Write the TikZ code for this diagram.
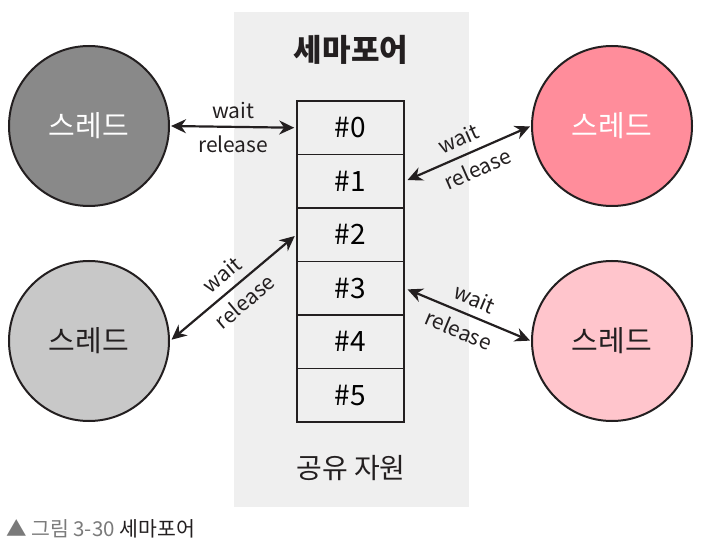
\documentclass[tikz,border=0pt]{standalone}
\usepackage{fontspec}
\setmainfont{Noto Sans CJK KR}
\newfontfamily\kr{Noto Sans CJK KR}
\usetikzlibrary{arrows.meta}
\definecolor{lineC}{HTML}{231F20}
\definecolor{bgC}{HTML}{EFEFEF}
\definecolor{thrA}{HTML}{898989}
\definecolor{thrB}{HTML}{C8C8C8}
\definecolor{thrC}{HTML}{FF8D9B}
\definecolor{thrD}{HTML}{FFC5CC}
\definecolor{capG}{HTML}{7A7A7A}
\tikzset{
  thread/.style={circle, draw=lineC, line width=2pt, minimum size=160pt, inner sep=0pt, font=\kr\fontsize{29}{29}\selectfont},
  slot/.style={rectangle, draw=lineC, line width=1.5pt, minimum width=107pt, minimum height=53.5pt, inner sep=0pt, font=\kr\fontsize{28}{28}\selectfont},
  link/.style={lineC, line width=2.2pt, {Stealth[length=15pt,width=14pt]}-{Stealth[length=15pt,width=14pt]}},
  lab/.style={font=\kr\fontsize{21}{21}\selectfont, text=lineC, inner sep=1pt},
}
\begin{document}
\begin{tikzpicture}[x=1pt,y=-1pt]
\useasboundingbox (0,0) rectangle (701,545);
\fill[bgC] (234,12) rectangle (469,507);
\node[font=\kr\bfseries\fontsize{31}{31}\selectfont, text=lineC] (title) at (351,50) {세마포어};
\foreach \i in {0,...,5} {
  \node[slot] (r\i) at (350.5,{101+53.5*\i+26.75}) {\#\i};
}
\node[font=\kr\fontsize{28}{28}\selectfont, text=lineC] (shared) at (351,468) {공유 자원};
\node[thread, fill=thrA, text=white] (tl) at (89,126) {스레드};
\node[thread, fill=thrB, text=lineC] (bl) at (89,341) {스레드};
\node[thread, fill=thrC, text=white] (tr) at (612,126) {스레드};
\node[thread, fill=thrD, text=lineC] (br) at (612,341) {스레드};
\draw[link, shorten <=1pt, shorten >=2pt] (tl.east) -- (r0.west)
  node[lab, midway, above=6pt] {wait}
  node[lab, midway, below=7pt] {release};
\draw[link, shorten <=3pt, shorten >=1pt] (r1.east) -- (tr.west)
  node[lab, pos=0.48, sloped, above=7pt] {wait}
  node[lab, pos=0.52, sloped, below=7pt] {release};
\draw[link, shorten <=2pt, shorten >=2pt] (bl.east) -- (r2.west)
  node[lab, pos=0.5, sloped, above=7pt] {wait}
  node[lab, pos=0.5, sloped, below=7pt] {release};
\draw[link, shorten <=3pt, shorten >=1pt] (r3.east) -- (br.west)
  node[lab, pos=0.5, sloped, above=7pt] {wait}
  node[lab, pos=0.48, sloped, below=7pt] {release};
\node[anchor=west, inner sep=0pt, font=\kr\fontsize{20.5}{20.5}\selectfont] (cap) at (6,529) {\textcolor{capG}{▲ 그림 3-30} \textcolor{lineC}{세마포어}};
\end{tikzpicture}
\end{document}
